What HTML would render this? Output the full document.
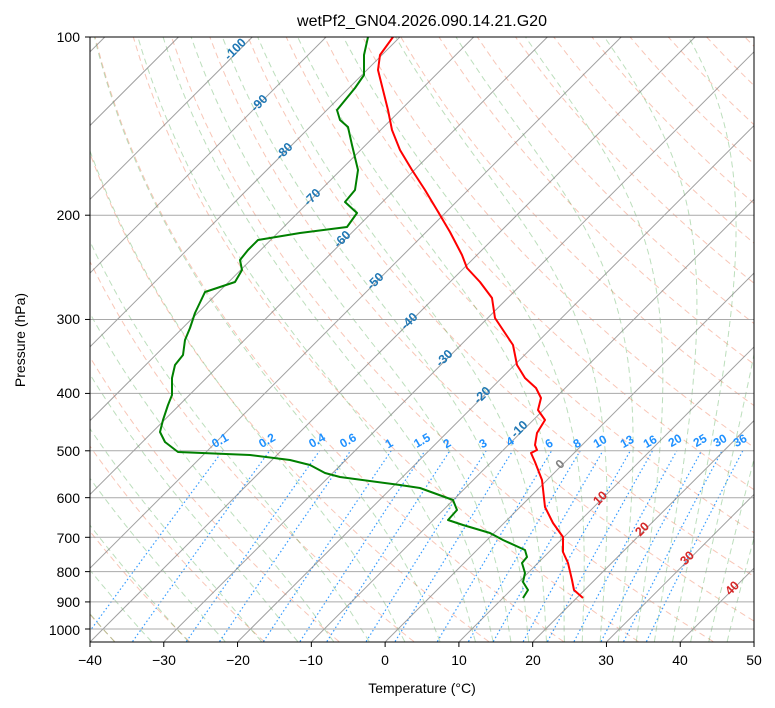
<!DOCTYPE html>
<html><head><meta charset="utf-8"><style>
body{margin:0;background:#fff;}
svg{display:block;font-family:"Liberation Sans","DejaVu Sans",sans-serif;}
.ml{fill:#1e90ff;font-size:12px;font-weight:bold;}
.it{font-size:12.5px;font-weight:bold;}
</style></head><body>
<svg id="s" width="775" height="708" viewBox="0 0 775 708" xmlns="http://www.w3.org/2000/svg">
<defs><clipPath id="c"><rect x="90" y="37" width="664" height="605"/></clipPath></defs>
<rect width="775" height="708" fill="#fff"/>
<g id="bg" clip-path="url(#c)"></g>
<g clip-path="url(#c)">
<polyline fill="none" stroke="#ff0000" stroke-width="2" stroke-linejoin="round" points="393,37 380,55 378,70 383,90 388,110 392,130 400,150 412,170 425,190 437,210 450,232 462,255 467,268 480,282 492,298 495,318 505,333 513,345 517,365 525,378 536,388 541,398 538,410 545,420 537,433 535,445 537,450 531,453 535,462 542,480 545,507 553,523 563,537 563,552 568,563 572,580 574,590 583,598"/>
<polyline fill="none" stroke="#008000" stroke-width="2" stroke-linejoin="round" points="368,37 364,55 364,75 355,88 337,110 340,120 348,127 352,145 358,170 355,190 345,202 357,213 347,227 300,233 258,240 248,250 240,260 242,270 235,282 205,292 195,313 190,328 185,340 183,355 175,365 172,378 172,395 168,405 163,420 160,432 165,442 178,452 250,455 290,460 310,465 325,473 340,477 400,485 420,488 453,500 457,510 448,520 463,525 490,533 503,540 525,550 527,557 522,563 525,573 523,582 528,590 523,598"/>
</g>
<g class="it">
<text transform="translate(238,52) rotate(-45)" text-anchor="middle" fill="#1f77b4">-100</text>
<text transform="translate(262,106) rotate(-45)" text-anchor="middle" fill="#1f77b4">-90</text>
<text transform="translate(287,154) rotate(-45)" text-anchor="middle" fill="#1f77b4">-80</text>
<text transform="translate(315,200) rotate(-45)" text-anchor="middle" fill="#1f77b4">-70</text>
<text transform="translate(345,242) rotate(-45)" text-anchor="middle" fill="#1f77b4">-60</text>
<text transform="translate(378,284) rotate(-45)" text-anchor="middle" fill="#1f77b4">-50</text>
<text transform="translate(412,324) rotate(-45)" text-anchor="middle" fill="#1f77b4">-40</text>
<text transform="translate(447,361) rotate(-45)" text-anchor="middle" fill="#1f77b4">-30</text>
<text transform="translate(485,398) rotate(-45)" text-anchor="middle" fill="#1f77b4">-20</text>
<text transform="translate(522,432) rotate(-45)" text-anchor="middle" fill="#1f77b4">-10</text>
<text transform="translate(563,467) rotate(-45)" text-anchor="middle" fill="#808080">0</text>
<text transform="translate(603,501) rotate(-45)" text-anchor="middle" fill="#d62728">10</text>
<text transform="translate(645,532) rotate(-45)" text-anchor="middle" fill="#d62728">20</text>
<text transform="translate(690,561) rotate(-45)" text-anchor="middle" fill="#d62728">30</text>
<text transform="translate(735,591) rotate(-45)" text-anchor="middle" fill="#d62728">40</text>
</g>
<g class="ml" text-anchor="middle">
<text transform="translate(222,444) rotate(-30)">0.1</text>
<text transform="translate(269,444) rotate(-30)">0.2</text>
<text transform="translate(319,444) rotate(-30)">0.4</text>
<text transform="translate(350,444) rotate(-30)">0.6</text>
<text transform="translate(391,447) rotate(-30)">1</text>
<text transform="translate(424,444) rotate(-30)">1.5</text>
<text transform="translate(449,447) rotate(-30)">2</text>
<text transform="translate(485,447) rotate(-30)">3</text>
<text transform="translate(512,445) rotate(-30)">4</text>
<text transform="translate(551,447) rotate(-30)">6</text>
<text transform="translate(579,447) rotate(-30)">8</text>
<text transform="translate(602,445) rotate(-30)">10</text>
<text transform="translate(629,445) rotate(-30)">13</text>
<text transform="translate(652,445) rotate(-30)">16</text>
<text transform="translate(677,444) rotate(-30)">20</text>
<text transform="translate(702,444) rotate(-30)">25</text>
<text transform="translate(722,444) rotate(-30)">30</text>
<text transform="translate(742,444) rotate(-30)">36</text>
</g>
<rect x="90" y="37" width="664" height="605" fill="none" stroke="#000" stroke-width="1"/>
<g id="ticks" stroke="#000"></g>
<g font-size="14" fill="#000">
<text x="80" y="635" text-anchor="end">1000</text>
<text x="80" y="607" text-anchor="end">900</text>
<text x="80" y="577" text-anchor="end">800</text>
<text x="80" y="543" text-anchor="end">700</text>
<text x="80" y="503" text-anchor="end">600</text>
<text x="80" y="456" text-anchor="end">500</text>
<text x="80" y="398" text-anchor="end">400</text>
<text x="80" y="324" text-anchor="end">300</text>
<text x="80" y="220" text-anchor="end">200</text>
<text x="80" y="42" text-anchor="end">100</text>
<g text-anchor="middle">
<text x="90" y="665">−40</text><text x="164" y="665">−30</text><text x="238" y="665">−20</text>
<text x="311" y="665">−10</text><text x="385" y="665">0</text><text x="459" y="665">10</text>
<text x="533" y="665">20</text><text x="606" y="665">30</text><text x="680" y="665">40</text>
<text x="754" y="665">50</text>
</g>
<text x="422" y="693" text-anchor="middle">Temperature (°C)</text>
<text transform="translate(25,340) rotate(-90)" text-anchor="middle">Pressure (hPa)</text>
<text x="422" y="26" text-anchor="middle" font-size="16">wetPf2_GN04.2026.090.14.21.G20</text>
</g>
<script>
(function(){
var NS="http://www.w3.org/2000/svg";
function Y(p){return 37+592*Math.log10(p/100);}
function X(T,p){return 90+(T+40)*7.378+(642-Y(p));}
var bg=document.getElementById('bg');
function line(pts,st,w,da,op){var e=document.createElementNS(NS,'polyline');
e.setAttribute('points',pts.map(function(q){return q[0].toFixed(1)+','+q[1].toFixed(1)}).join(' '));
e.setAttribute('fill','none');e.setAttribute('stroke',st);e.setAttribute('stroke-width',w);
if(da)e.setAttribute('stroke-dasharray',da);if(op)e.setAttribute('stroke-opacity',op);bg.appendChild(e);}
var ps=[];for(var p=1050;p>=100;p-=10)ps.push(p);
for(var t0=-50;t0<=200;t0+=10){var th=t0+273.15;line(ps.map(function(p){var T=th*Math.pow(p/1000,0.2857)-273.15;return [X(T,p),Y(p)];}),'#f08060',1,'6,4',0.45);}
function dTdp(T,p){var tc=T-273.15;var es=6.112*Math.exp(17.67*tc/(tc+243.5));var rs=0.622*es/(p-es);
var Lv=2.501e6,Rd=287.04,Cp=1005.7;return (Rd*T+Lv*rs)/(Cp+Lv*Lv*rs*0.622/(Rd*T*T))/p;}
var m=[];for(var a=-50;a<=10;a+=5)m.push(a);for(var a=12.5;a<=45;a+=2.5)m.push(a);
m.forEach(function(t0){var pts=[];var T=t0+273.15,p=1000,h=-2;
while(p>=100){pts.push([X(T-273.15,p),Y(p)]);var k1=dTdp(T,p),k2=dTdp(T+h*k1/2,p+h/2),k3=dTdp(T+h*k2/2,p+h/2),k4=dTdp(T+h*k3,p+h);T+=h*(k1+2*k2+2*k3+k4)/6;p+=h;}
var T2=t0+273.15;pts.unshift([X(T2+50*dTdp(T2,1000)-273.15,1050),Y(1050)]);
line(pts,'#40a040',1,'6,4',0.35);});
[0.1,0.2,0.4,0.6,1,1.5,2,3,4,6,8,10,13,16,20,25,30,36].forEach(function(w){var pts=[];
for(var p=1050;p>=500;p-=10){var ww=w/1000;var e=ww*p/(0.622+ww);var l=Math.log(e/6.112);var Td=243.5*l/(17.67-l);pts.push([X(Td,p),Y(p)]);}
line(pts,'#1e90ff',1.2,'1.5,2.5',0.9);});
for(var t=-150;t<=50;t+=10){line([[X(t,1050),Y(1050)],[X(t,100),Y(100)]],'#808080',1,null,0.75);}
for(var p=100;p<=1000;p+=100){line([[90,Y(p)],[754,Y(p)]],'#a0a0a0',1,null,0.9);}
var tk=document.getElementById('ticks');
function tl(x1,y1,x2,y2){var e=document.createElementNS(NS,'line');e.setAttribute('x1',x1);e.setAttribute('y1',y1);e.setAttribute('x2',x2);e.setAttribute('y2',y2);tk.appendChild(e);}
for(var t=-40;t<=50;t+=10){var x=90+(t+40)*7.378;tl(x,642,x,647);}
for(var p=100;p<=1000;p+=100){var y=Y(p);tl(85,y,90,y);}
})();
</script>
</svg>
</body></html>
